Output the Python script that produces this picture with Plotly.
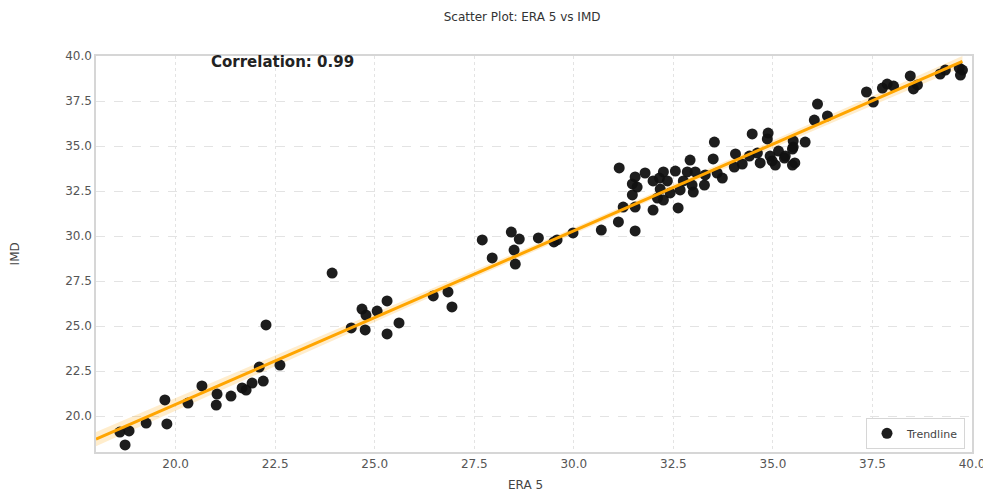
import numpy as np
import plotly.graph_objects as go

era5 = [18.60, 18.83, 18.73, 19.26, 19.78, 19.73, 20.31, 20.66, 21.02, 21.04,
        21.39, 21.67, 21.77, 21.92, 22.20, 22.10, 22.62, 22.27, 23.93, 24.41,
        24.68, 24.78, 24.76, 25.06, 25.31, 25.31, 25.61, 26.47, 26.84, 26.94,
        27.70, 27.95, 28.43, 28.63, 28.50, 28.53, 29.11, 29.50, 29.58, 29.98,
        30.69, 31.12, 31.54, 31.24, 31.54, 31.99, 32.25, 32.62, 31.14, 31.47,
        31.59, 31.47, 31.54, 31.79, 31.99, 32.15, 32.25, 32.35, 32.17, 32.10,
        32.42, 32.55, 32.67, 32.75, 32.92, 32.85, 33.05, 32.97, 33.00, 33.28,
        33.30, 33.50, 33.53, 33.60, 33.73, 34.03, 34.06, 34.23, 34.41, 34.48,
        34.61, 34.68, 34.88, 34.86, 34.98, 35.14, 35.06, 35.29, 35.49, 35.51,
        35.51, 35.81, 36.04, 36.12, 36.37, 37.35, 37.52, 37.75, 37.87, 38.03,
        38.45, 38.53, 38.63, 39.20, 39.33, 39.68, 39.76, 39.71, 34.93, 35.31,
        35.49, 35.55]
imd = [19.11, 19.17, 18.39, 19.61, 19.56, 20.89, 20.72, 21.67, 20.61, 21.22,
       21.11, 21.56, 21.44, 21.83, 21.94, 22.72, 22.83, 25.06, 27.94, 24.89,
       25.94, 25.61, 24.78, 25.83, 26.39, 24.56, 25.17, 26.67, 26.89, 26.06,
       29.78, 28.78, 30.22, 29.83, 29.22, 28.44, 29.89, 29.67, 29.78, 30.17,
       30.33, 30.78, 30.28, 31.61, 31.61, 31.44, 32.00, 31.56, 33.78, 32.89,
       32.72, 32.28, 33.28, 33.50, 33.06, 33.22, 33.56, 33.06, 32.61, 32.11,
       32.39, 33.61, 32.56, 33.06, 34.22, 33.56, 33.56, 32.83, 32.44, 32.83,
       33.39, 34.28, 35.22, 33.50, 33.22, 33.83, 34.56, 34.00, 34.44, 35.67,
       34.61, 34.06, 35.72, 35.39, 34.17, 34.72, 33.94, 34.33, 33.94, 34.94,
       35.28, 35.22, 36.44, 37.33, 36.67, 38.00, 37.44, 38.22, 38.44, 38.33,
       38.89, 38.17, 38.39, 39.00, 39.22, 39.33, 39.22, 38.94, 34.44, 34.44,
       34.83, 34.06]

x_ticks = [20.0, 22.5, 25.0, 27.5, 30.0, 32.5, 35.0, 37.5, 40.0]
y_ticks = [20.0, 22.5, 25.0, 27.5, 30.0, 32.5, 35.0, 37.5, 40.0]
title_text = "Scatter Plot: ERA 5 vs IMD"
x_title = "ERA 5"
y_title = "IMD"
legend_label = "Trendline"

x = np.array(era5)
y = np.array(imd)
corr = np.corrcoef(x, y)[0, 1]
slope, intercept = np.polyfit(x, y, 1)
n = len(x)
xs = np.linspace(18.0, x.max(), 100)
ys = slope * xs + intercept
resid = y - (slope * x + intercept)
s = np.sqrt(np.sum(resid ** 2) / (n - 2))
se = s * np.sqrt(1 / n + (xs - x.mean()) ** 2 / np.sum((x - x.mean()) ** 2))
ci = 1.98 * se

fig = go.Figure()
fig.add_trace(go.Scatter(x=np.concatenate([xs, xs[::-1]]),
                         y=np.concatenate([ys + ci, (ys - ci)[::-1]]),
                         fill="toself", fillcolor="rgba(255,165,0,0.2)",
                         line=dict(width=0), hoverinfo="skip", showlegend=False))
fig.add_trace(go.Scatter(x=x, y=y, mode="markers", name=legend_label,
                         marker=dict(color="#111111", size=11, opacity=0.95)))
fig.add_trace(go.Scatter(x=xs, y=ys, mode="lines", showlegend=False,
                         line=dict(color="#FFA500", width=3)))

fig.add_annotation(text=f"<b>Correlation: {corr:.2f}</b>", xref="paper", yref="paper",
                   x=0.213, y=0.985, xanchor="center", yanchor="middle", showarrow=False,
                   font=dict(family="DejaVu Sans", size=15, color="#222222"))
fig.add_annotation(text=x_title, xref="paper", yref="paper",
                   x=0.49, y=-0.083, xanchor="center", yanchor="middle", showarrow=False,
                   font=dict(family="DejaVu Sans", size=12, color="#444444"))
fig.add_annotation(text=y_title, xref="paper", yref="paper", textangle=-90,
                   x=-0.092, y=0.5, xanchor="center", yanchor="middle", showarrow=False,
                   font=dict(family="DejaVu Sans", size=12, color="#444444"))

axis_common = dict(showgrid=True, gridcolor="#e3e3e3", griddash="dash", gridwidth=1,
                   showline=True, linecolor="#d6d6d6", linewidth=1.5, mirror=True,
                   zeroline=False, ticks="", tickformat=".1f", automargin=False,
                   tickfont=dict(family="DejaVu Sans", size=12, color="#555555"))

fig.update_layout(
    width=983, height=487,
    paper_bgcolor="white", plot_bgcolor="white",
    margin=dict(l=88, r=19, t=48, b=43, autoexpand=False),
    title=dict(text=title_text, x=0.523, xref="container", y=1 - 9 / 487, yref="container",
               xanchor="center", yanchor="middle",
               font=dict(family="DejaVu Sans", size=12, color="#333333")),
    xaxis=dict(range=[18.0, 40.0], tickvals=x_ticks, **axis_common),
    yaxis=dict(range=[18.0, 40.0], tickvals=y_ticks, **axis_common),
    legend=dict(x=0.992, y=0.008, xanchor="right", yanchor="bottom",
                bgcolor="white", bordercolor="#d6d6d6", borderwidth=1,
                font=dict(family="DejaVu Sans", size=11, color="#444444")),
    showlegend=True,
)
fig.update_xaxes(griddash="dot")

fig.write_html("out.html")
